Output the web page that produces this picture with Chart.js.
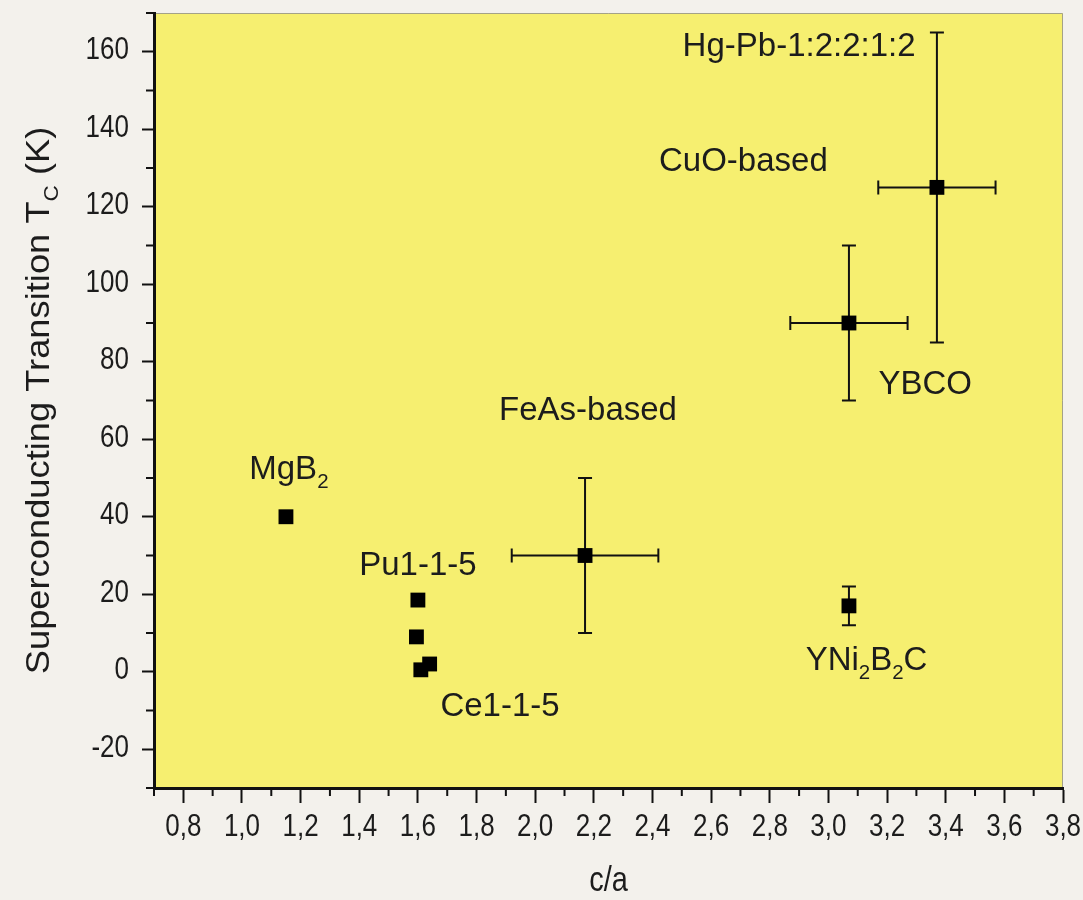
<!DOCTYPE html>
<html>
<head>
<meta charset="UTF-8">
<title>Tc vs c/a</title>
<style>
  body { margin: 0; background: #F3F1EC; }
  canvas { display: block; }
</style>
</head>
<body>
<canvas id="chart" width="1083" height="900"></canvas>
<script src="https://cdn.jsdelivr.net/npm/chart.js"></script>
<script>
// data
const materials = ['MgB2', 'Pu1-1-5', 'Pu1-1-5', 'Ce1-1-5', 'Ce1-1-5', 'FeAs-based', 'YBCO', 'Hg-Pb-1:2:2:1:2', 'YNi2B2C'];
const caValues = [1.15, 1.60, 1.595, 1.61, 1.64, 2.17, 3.07, 3.37, 3.07];
const tcValues = [40, 18.5, 9, 0.5, 2, 30, 90, 125, 17];
const caErr = [0, 0, 0, 0, 0, 0.25, 0.2, 0.2, 0];
const tcErr = [0, 0, 0, 0, 0, 20, 20, 40, 5];

const xTicks = [0.8, 1.0, 1.2, 1.4, 1.6, 1.8, 2.0, 2.2, 2.4, 2.6, 2.8, 3.0, 3.2, 3.4, 3.6, 3.8];
const yTicks = [-20, 0, 20, 40, 60, 80, 100, 120, 140, 160];

// annotation text, anchored in data units (second item 1 = subscript)
const notes = [
  { parts: [['MgB'], ['2', 1]], x: 1.16, y: 52 },
  { parts: [['Pu1-1-5']], x: 1.60, y: 27.4 },
  { parts: [['Ce1-1-5']], x: 1.88, y: -9 },
  { parts: [['FeAs-based']], x: 2.18, y: 67.4 },
  { parts: [['CuO-based']], x: 2.71, y: 131.5 },
  { parts: [['Hg-Pb-1:2:2:1:2']], x: 2.90, y: 161.2 },
  { parts: [['YBCO']], x: 3.33, y: 73.9 },
  { parts: [['YNi'], ['2', 1], ['B'], ['2', 1], ['C']], x: 3.13, y: 2.8 }
];

const FONT = '"Liberation Sans", Arial, sans-serif';
const INK = '#1c1c1c';

function richWidth(ctx, parts, size) {
  let w = 0;
  parts.forEach(p => {
    ctx.font = (p[1] ? size * 0.62 : size) + 'px ' + FONT;
    w += ctx.measureText(p[0]).width;
  });
  return w;
}

function drawRich(ctx, parts, cx, cy, size) {
  let x = cx - richWidth(ctx, parts, size) / 2;
  ctx.textBaseline = 'middle';
  ctx.textAlign = 'left';
  parts.forEach(p => {
    const s = p[1] ? size * 0.62 : size;
    ctx.font = s + 'px ' + FONT;
    ctx.fillText(p[0], x, cy + (p[1] ? size * 0.38 : 0));
    x += ctx.measureText(p[0]).width;
  });
}

// text squeezed sideways like the source picture
function tallText(ctx, txt, x, y, size, align, stretch) {
  ctx.save();
  ctx.translate(x, y);
  ctx.scale(1, stretch);
  ctx.font = size + 'px ' + FONT;
  ctx.textAlign = align;
  ctx.textBaseline = 'middle';
  ctx.fillText(txt, 0, 0);
  ctx.restore();
}

const framePlugin = {
  id: 'frame',
  beforeDraw(chart) {
    const { ctx, chartArea: a } = chart;
    ctx.save();
    ctx.fillStyle = '#F6EF70';
    ctx.fillRect(a.left, a.top, a.right - a.left, a.bottom - a.top);
    ctx.strokeStyle = '#a4a288';
    ctx.lineWidth = 1;
    ctx.beginPath();
    ctx.moveTo(a.left, a.top + 0.5);
    ctx.lineTo(a.right - 0.5, a.top + 0.5);
    ctx.lineTo(a.right - 0.5, a.bottom);
    ctx.stroke();
    ctx.restore();
  },
  beforeDatasetsDraw(chart) {
    // error bars with caps
    const { ctx, scales: { x, y } } = chart;
    ctx.save();
    ctx.strokeStyle = '#111';
    ctx.lineWidth = 2;
    const cap = 7;
    caValues.forEach((cv, i) => {
      const px = x.getPixelForValue(cv), py = y.getPixelForValue(tcValues[i]);
      ctx.beginPath();
      if (tcErr[i]) {
        const t = y.getPixelForValue(tcValues[i] + tcErr[i]);
        const b = y.getPixelForValue(tcValues[i] - tcErr[i]);
        ctx.moveTo(px, t); ctx.lineTo(px, b);
        ctx.moveTo(px - cap, t); ctx.lineTo(px + cap, t);
        ctx.moveTo(px - cap, b); ctx.lineTo(px + cap, b);
      }
      if (caErr[i]) {
        const l = x.getPixelForValue(cv - caErr[i]);
        const r = x.getPixelForValue(cv + caErr[i]);
        ctx.moveTo(l, py); ctx.lineTo(r, py);
        ctx.moveTo(l, py - cap); ctx.lineTo(l, py + cap);
        ctx.moveTo(r, py - cap); ctx.lineTo(r, py + cap);
      }
      ctx.stroke();
    });
    ctx.restore();
  },
  afterDraw(chart) {
    const { ctx, chartArea: a, scales: { x, y } } = chart;
    ctx.save();
    // minor ticks
    ctx.strokeStyle = '#111';
    ctx.lineWidth = 2;
    ctx.beginPath();
    for (let k = 7; k <= 38; k += 2) {
      const px = x.getPixelForValue(k / 10);
      ctx.moveTo(px, a.bottom); ctx.lineTo(px, a.bottom + 8);
    }
    for (let k = -30; k <= 170; k += 20) {
      const py = y.getPixelForValue(k);
      ctx.moveTo(a.left, py); ctx.lineTo(a.left - 8, py);
    }
    ctx.stroke();

    ctx.fillStyle = INK;
    // tick labels from the scales' own ticks
    x.ticks.forEach(t => tallText(ctx, t.value.toFixed(1).replace('.', ','), x.getPixelForValue(t.value), a.bottom + 40, 26, 'center', 1.18));
    y.ticks.forEach(t => tallText(ctx, String(t.value), a.left - 25, y.getPixelForValue(t.value) - 1, 26, 'right', 1.18));
    tallText(ctx, 'c/a', (a.left + a.right) / 2, 882, 29, 'center', 1.18);

    // annotations
    notes.forEach(n => drawRich(ctx, n.parts, x.getPixelForValue(n.x), y.getPixelForValue(n.y), 33));

    // y axis title, rotated and stretched along its length
    ctx.translate(40, (a.top + a.bottom) / 2);
    ctx.rotate(-Math.PI / 2);
    ctx.scale(1.1, 1);
    drawRich(ctx, [['Superconducting Transition T'], ['C', 1], [' (K)']], 0, 0, 33);
    ctx.restore();
  }
};

new Chart(document.getElementById('chart'), {
  type: 'scatter',
  data: {
    datasets: [{
      label: 'Tc',
      data: caValues.map((v, i) => ({ x: v, y: tcValues[i] })),
      pointStyle: 'rect',
      pointRadius: 10.5,
      pointHoverRadius: 10.5,
      backgroundColor: '#000',
      borderColor: '#000',
      borderWidth: 0
    }]
  },
  options: {
    responsive: false,
    animation: false,
    layout: { padding: { top: 13, right: 20, left: 0, bottom: 0 } },
    plugins: { legend: { display: false }, tooltip: { enabled: false } },
    scales: {
      x: {
        type: 'linear',
        min: 0.7,
        max: 3.8,
        afterBuildTicks: s => { s.ticks = xTicks.map(v => ({ value: v })); },
        afterFit: s => { s.height = 112; },
        ticks: { display: false },
        grid: { drawOnChartArea: false, tickLength: 15, tickWidth: 2, tickColor: '#111' },
        border: { color: '#111', width: 3 }
      },
      y: {
        type: 'linear',
        min: -30,
        max: 170,
        afterBuildTicks: s => { s.ticks = yTicks.map(v => ({ value: v })); },
        afterFit: s => { s.width = 154; },
        ticks: { display: false },
        grid: { drawOnChartArea: false, tickLength: 12, tickWidth: 2, tickColor: '#111' },
        border: { color: '#111', width: 3 }
      }
    }
  },
  plugins: [framePlugin]
});
</script>
</body>
</html>
